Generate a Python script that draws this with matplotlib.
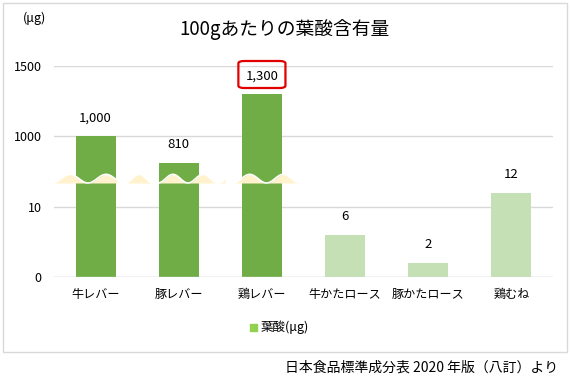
import numpy as np
import matplotlib
matplotlib.use("Agg")
import matplotlib.pyplot as plt
from matplotlib.patches import FancyBboxPatch, Rectangle
from matplotlib.transforms import blended_transform_factory

plt.rcParams['font.family'] = ['Noto Sans CJK JP', 'DejaVu Sans']

# --- data ---
categories = ["牛レバー", "豚レバー", "鶏レバー", "牛かたロース", "豚かたロース", "鶏むね"]
folate = [1000, 810, 1300, 6, 2, 12]
is_liver = [True, True, True, False, False, False]
y_ticks = [0, 10, 1000, 1500]
title = "100gあたりの葉酸含有量"
series_name = "葉酸(μg)"
source = "日本食品標準成分表 2020 年版（八訂）より"

dark_green = "#70AD47"
light_green = "#C5E0B4"
cream = "#FFF2CC"
grid_col = "#D9D9D9"

# broken y axis: 0..13.6 and 671..2000 squeezed together
brk_x = [0, 13.571, 671.43, 2000]
brk_y = [0, 95, 95.01, 281]


def fwd(v):
    return np.interp(v, brk_x, brk_y)


def inv(y):
    return np.interp(y, brk_y, brk_x)


fig = plt.figure(figsize=(5.71, 3.79), dpi=100)
ax = fig.add_axes([54 / 571, 102 / 379, 499 / 571, 211 / 379])
ax.set_yscale('function', functions=(fwd, inv))

x = np.arange(len(categories))
colors = [dark_green if l else light_green for l in is_liver]
ax.bar(x, folate, width=0.48, color=colors, zorder=2)

ax.set_xlim(-0.5, len(categories) - 0.5)
ax.set_ylim(0, 1500)
ax.set_yticks(y_ticks)
ax.set_yticklabels([str(t) for t in y_ticks])
ax.yaxis.set_minor_locator(matplotlib.ticker.NullLocator())
ax.set_xticks(x)
ax.set_xticklabels(categories)
ax.tick_params(axis='both', length=0, colors="#000000")
ax.tick_params(axis='y', pad=9, labelsize=9)
ax.tick_params(axis='x', pad=8, labelsize=8.7)
for s in ax.spines.values():
    s.set_visible(False)
ax.grid(axis='y', color=grid_col, linewidth=1, zorder=0)
ax.axhline(0, color=grid_col, linewidth=1, zorder=3)

# value labels
for xi, v in zip(x, folate):
    ax.annotate(f"{v:,}", (xi, v), xytext=(0, 13), textcoords='offset points',
                ha='center', va='center', fontsize=9.5, clip_on=False)

# red box around the top value
trans_box = blended_transform_factory(ax.transData, fig.transFigure)
box = FancyBboxPatch((2 - 0.283, 1 - 88 / 379), 0.566, 27 / 379,
                     boxstyle="round,pad=0,rounding_size=0.07",
                     transform=trans_box, fill=False, edgecolor="#E00000",
                     linewidth=1.6, clip_on=False, zorder=5,
                     mutation_aspect=0.09)
ax.add_patch(box)

# wavy break marks
trans_wave = blended_transform_factory(ax.transData, ax.transAxes)
base = 0.4455
amp = 0.041
pieces = [(-0.524, 0.257, 0.433), (0.354, 0.69, 0.337),
          (0.750, 1.556, 0.361), (1.652, 2.458, 0.403)]
for x0, x1, per in pieces:
    xs = np.linspace(x0, x1, 80)
    ys = base + amp * np.sin(np.pi * (xs - x0) / per) ** 2
    ax.fill_between(xs, base, ys, transform=trans_wave, color=cream,
                    linewidth=0, zorder=3)
    ax.plot(xs, ys, transform=trans_wave, color="white", linewidth=1.2,
            zorder=4, solid_capstyle='butt')

# texts
fig.text(0.498, 1 - 30 / 379, title, ha='center', va='center', fontsize=13.5)
fig.text(34 / 571, 1 - 18 / 379, "(μg)", ha='center', va='center', fontsize=9)
fig.text(558 / 571, 1 - 368 / 379, source, ha='right', va='center', fontsize=10)

# legend
fig.patches.append(Rectangle((250 / 571, 1 - 331 / 379), 7 / 571, 7 / 379,
                             transform=fig.transFigure, color="#92D050"))
fig.text(261 / 571, 1 - 327.5 / 379, series_name, ha='left', va='center', fontsize=9)

# outer frame
fig.patches.append(Rectangle((3 / 571, 1 - 352 / 379), 564 / 571, 349 / 379,
                             transform=fig.transFigure, fill=False,
                             edgecolor=grid_col, linewidth=1))

fig.savefig("out.png", dpi=100)
